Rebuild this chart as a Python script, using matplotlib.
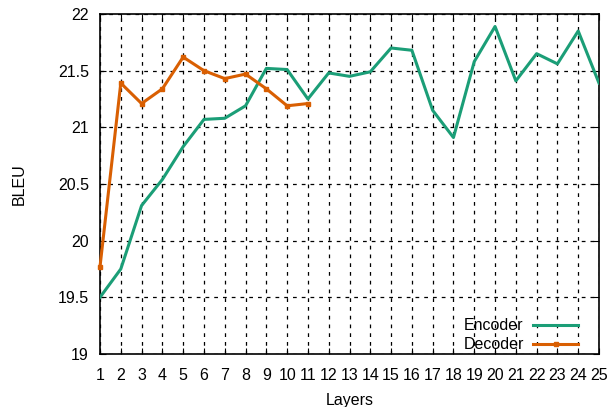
import matplotlib
matplotlib.use("Agg")
import matplotlib.pyplot as plt

plt.rcParams['font.family'] = ['Liberation Sans', 'DejaVu Sans']

enc_layers = list(range(1, 26))
enc_bleu = [19.50, 19.75, 20.31, 20.54, 20.83, 21.07, 21.08, 21.19, 21.52, 21.51,
            21.25, 21.48, 21.45, 21.49, 21.70, 21.68, 21.15, 20.91, 21.58, 21.89,
            21.41, 21.65, 21.56, 21.85, 21.39]
dec_layers = list(range(1, 12))
dec_bleu = [19.77, 21.39, 21.21, 21.34, 21.62, 21.50, 21.43, 21.47, 21.34, 21.19, 21.21]
y_ticks = [19, 19.5, 20, 20.5, 21, 21.5, 22]

fig = plt.figure(figsize=(6.12, 4.07), dpi=100)
ax = fig.add_axes([100/612, 53/407, 499/612, 340/407])

ax.plot(enc_layers, enc_bleu, color='#1b9e77', lw=2.2, label='Encoder', zorder=3)
ax.plot(dec_layers, dec_bleu, color='#d95f02', lw=2.2, marker='s', ms=3.5,
        label='Decoder', zorder=4, clip_on=False)

ax.set_xlim(1, 25)
ax.set_ylim(19, 22)
ax.set_xticks(enc_layers)
ax.set_xticklabels([str(v) for v in enc_layers])
ax.set_yticks(y_ticks)
ax.set_yticklabels(['%g' % v for v in y_ticks])
ax.tick_params(direction='in', labelsize=11.5, length=4, top=True, right=True)
ax.tick_params(axis='x', pad=10)
ax.tick_params(axis='y', pad=8)
ax.grid(True, color='black', linestyle=(0, (3, 4)), lw=0.9)
for s in ax.spines.values():
    s.set_linewidth(1.2)

ax.set_xlabel('Layers', fontsize=11.5, labelpad=7)
ax.set_ylabel('BLEU', fontsize=11.5, labelpad=22)

leg = ax.legend(loc='lower right', bbox_to_anchor=(0.958, 0.005), markerfirst=False,
                frameon=False, fontsize=11.5, handlelength=2.8, borderpad=0,
                borderaxespad=0, labelspacing=0.25, handletextpad=0.6)

fig.savefig('out.png', dpi=100)
